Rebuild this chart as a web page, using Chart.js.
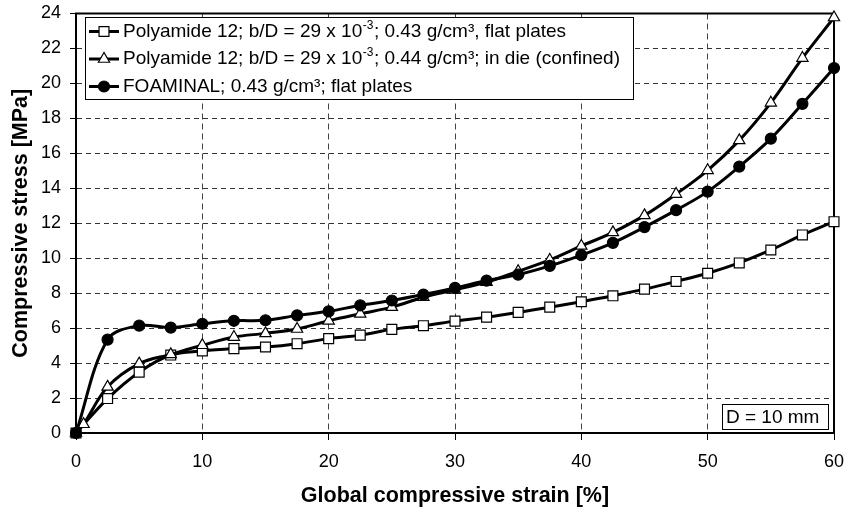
<!DOCTYPE html>
<html>
<head>
<meta charset="utf-8">
<script src="https://cdn.jsdelivr.net/npm/chart.js@4.4.1/dist/chart.umd.min.js"></script>
<style>
  html, body { margin: 0; padding: 0; background: #fff; }
</style>
</head>
<body>
<canvas id="stressChart" width="845" height="512"></canvas>
<script>
// strain in %, stress in MPa
var strain = [0, 2.5, 5, 7.5, 10, 12.5, 15, 17.5, 20, 22.5, 25, 27.5, 30, 32.5, 35, 37.5, 40, 42.5, 45, 47.5, 50, 52.5, 55, 57.5, 60];
var flatStress = [0, 1.97, 3.48, 4.46, 4.69, 4.83, 4.92, 5.11, 5.40, 5.60, 5.93, 6.14, 6.40, 6.63, 6.90, 7.20, 7.51, 7.85, 8.23, 8.67, 9.14, 9.73, 10.47, 11.33, 12.09];
var dieStrain = [0, 0.6, 2.5, 5, 7.5, 10, 12.5, 15, 17.5, 20, 22.5, 25, 27.5, 30, 32.5, 35, 37.5, 40, 42.5, 45, 47.5, 50, 52.5, 55, 57.5, 60];
var dieStress = [0, 0.5, 2.64, 3.97, 4.50, 5.02, 5.49, 5.70, 5.95, 6.42, 6.82, 7.20, 7.77, 8.19, 8.63, 9.25, 9.90, 10.70, 11.48, 12.45, 13.67, 15.03, 16.74, 18.89, 21.45, 23.77];
var foamStress = [0, 5.34, 6.14, 6.03, 6.25, 6.42, 6.45, 6.73, 6.96, 7.30, 7.58, 7.92, 8.30, 8.72, 9.06, 9.56, 10.18, 10.88, 11.78, 12.75, 13.81, 15.24, 16.84, 18.83, 20.88];

var seriesLabels = [
    'Polyamide 12; b/D = 29 x 10⁻³; 0.43 g/cm³, flat plates',
    'Polyamide 12; b/D = 29 x 10⁻³; 0.44 g/cm³; in die (confined)',
    'FOAMINAL; 0.43 g/cm³; flat plates'
];
var xTicks = [0, 10, 20, 30, 40, 50, 60];
var yTicks = [0, 2, 4, 6, 8, 10, 12, 14, 16, 18, 20, 22, 24];
var noteText = 'D = 10 mm';

var FONT = "'Liberation Sans', Arial, Helvetica, sans-serif";

function pairs(xs, ys) {
    return xs.map(function(x, i) { return {x: x, y: ys[i]}; });
}

function drawMarker(ctx, style, x, y, r, fill) {
    ctx.save();
    ctx.fillStyle = fill;
    ctx.strokeStyle = '#000';
    ctx.lineWidth = 1.2;
    ctx.beginPath();
    if (style === 'rect') {
        var s = r * Math.SQRT1_2;
        ctx.rect(x - s, y - s, 2 * s, 2 * s);
    } else if (style === 'triangle') {
        ctx.moveTo(x, y - r);
        ctx.lineTo(x - r * 0.866, y + r * 0.5);
        ctx.lineTo(x + r * 0.866, y + r * 0.5);
        ctx.closePath();
    } else {
        ctx.arc(x, y, r, 0, Math.PI * 2);
    }
    ctx.fill();
    ctx.stroke();
    ctx.restore();
}

// label text with the "10⁻³" exponent drawn as a real superscript
function drawLabel(ctx, text, x, y) {
    var parts = text.split('⁻³');
    ctx.textBaseline = 'middle';
    ctx.textAlign = 'left';
    for (var i = 0; i < parts.length; i++) {
        ctx.font = '19px ' + FONT;
        ctx.fillText(parts[i], x, y);
        x += ctx.measureText(parts[i]).width;
        if (i < parts.length - 1) {
            ctx.font = '12px ' + FONT;
            ctx.fillText('-3', x + 0.5, y - 6);
            x += ctx.measureText('-3').width + 1;
        }
    }
}

var boxes = {
    id: 'boxes',
    beforeDatasetsDraw: function(chart) {
        var a = chart.chartArea, ctx = chart.ctx;
        ctx.save();
        ctx.strokeStyle = '#000';
        ctx.lineWidth = 2;
        ctx.strokeRect(a.left, a.top, a.right - a.left, a.bottom - a.top);
        ctx.restore();
    },
    afterDraw: function(chart) {
        var ctx = chart.ctx;
        ctx.save();
        // legend box
        ctx.fillStyle = '#fff';
        ctx.fillRect(85, 17, 548, 82);
        ctx.strokeStyle = '#000';
        ctx.lineWidth = 1;
        ctx.strokeRect(85.5, 17.5, 548, 82);
        var rows = [31.5, 59, 86.5];
        chart.data.datasets.forEach(function(ds, i) {
            var y = rows[i];
            ctx.strokeStyle = '#000';
            ctx.lineWidth = 3;
            ctx.beginPath();
            ctx.moveTo(89, y);
            ctx.lineTo(119, y);
            ctx.stroke();
            drawMarker(ctx, ds.pointStyle, 104, y, ds.pointRadius, ds.pointBackgroundColor);
            ctx.fillStyle = '#000';
            drawLabel(ctx, ds.label, 123, y);
        });
        // D = 10 mm note
        ctx.fillStyle = '#fff';
        ctx.fillRect(722, 404, 106, 25);
        ctx.strokeStyle = '#000';
        ctx.lineWidth = 1;
        ctx.strokeRect(722.5, 404.5, 106, 25);
        ctx.fillStyle = '#000';
        ctx.font = '19px ' + FONT;
        ctx.textBaseline = 'middle';
        ctx.fillText(noteText, 726, 417.5);
        ctx.restore();
    }
};

var ctx = document.getElementById('stressChart').getContext('2d');

var lineStyle = {
    borderColor: '#000',
    borderWidth: 3,
    tension: 0.35,
    pointBorderColor: '#000',
    pointBorderWidth: 1.2,
    clip: false
};

var myChart = new Chart(ctx, {
    type: 'line',
    data: {
        datasets: [
            Object.assign({
                label: seriesLabels[0],
                data: pairs(strain, flatStress),
                pointStyle: 'rect',
                pointRadius: 7,
                pointBackgroundColor: '#fff',
                order: 3
            }, lineStyle),
            Object.assign({
                label: seriesLabels[1],
                data: pairs(dieStrain, dieStress),
                pointStyle: 'triangle',
                pointRadius: 6.5,
                pointBackgroundColor: '#fff',
                order: 2
            }, lineStyle),
            Object.assign({
                label: seriesLabels[2],
                data: pairs(strain, foamStress),
                pointStyle: 'circle',
                pointRadius: 5.5,
                pointBackgroundColor: '#000',
                order: 1
            }, lineStyle)
        ]
    },
    options: {
        responsive: false,
        animation: false,
        layout: { padding: { top: 13.5, right: 11, left: 0, bottom: 0 } },
        plugins: {
            legend: { display: false },
            tooltip: { enabled: false }
        },
        scales: {
            x: {
                type: 'linear',
                min: 0,
                max: 60,
                afterBuildTicks: function(s) { s.ticks = xTicks.map(function(v) { return {value: v}; }); },
                afterFit: function(s) { s.height = 79; s.paddingLeft = 0; s.paddingRight = 0; },
                ticks: { font: { family: FONT, size: 18 }, color: '#000', padding: 11, maxRotation: 0 },
                grid: { color: '#444', lineWidth: 1, tickLength: 7, tickColor: '#000', tickWidth: 1 },
                border: { color: '#000', width: 2, dash: [6, 4] },
                title: { display: true, text: 'Global compressive strain [%]', color: '#000',
                         font: { family: FONT, size: 21.5, weight: 'bold' }, padding: 3 }
            },
            y: {
                type: 'linear',
                min: 0,
                max: 24,
                afterBuildTicks: function(s) { s.ticks = yTicks.map(function(v) { return {value: v}; }); },
                afterFit: function(s) { s.width = 76; s.paddingTop = 0; s.paddingBottom = 0; },
                ticks: { font: { family: FONT, size: 18 }, color: '#000', padding: 9 },
                grid: { color: '#333', lineWidth: 1, tickLength: 6, tickColor: '#000', tickWidth: 1 },
                border: { color: '#000', width: 2, dash: [5, 4] },
                title: { display: true, text: 'Compressive stress [MPa]', color: '#000',
                         font: { family: FONT, size: 21.5, weight: 'bold' }, padding: 8 }
            }
        }
    },
    plugins: [boxes]
});
</script>
</body>
</html>
